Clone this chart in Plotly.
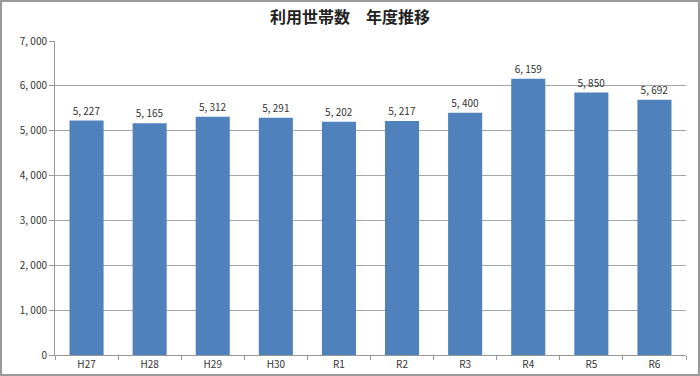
import plotly.graph_objects as go

categories = ["H27", "H28", "H29", "H30", "R1", "R2", "R3", "R4", "R5", "R6"]
values = [5227, 5165, 5312, 5291, 5202, 5217, 5400, 6159, 5850, 5692]
ytick_vals = [0, 1000, 2000, 3000, 4000, 5000, 6000, 7000]
ytick_text = ["0", "1, 000", "2, 000", "3, 000", "4, 000", "5, 000", "6, 000", "7, 000"]

labels = [f"{v:,}".replace(",", ", ") for v in values]

fig = go.Figure(go.Bar(
    x=categories, y=values,
    marker=dict(color="#4F81BD", line=dict(width=0)),
    text=labels, textposition="outside",
    textfont=dict(size=10, color="#333333", family="Noto Sans CJK JP"),
    cliponaxis=False,
))

fig.update_layout(
    width=700, height=376,
    margin=dict(l=55, r=14, t=41, b=21, autoexpand=False),
    paper_bgcolor="white", plot_bgcolor="white",
    bargap=0.46,
    showlegend=False,
    title=dict(text="<b>利用世帯数　年度推移</b>", x=0.5, xanchor="center", y=0.955, yanchor="middle",
               font=dict(size=16, color="#222222", family="Noto Sans CJK JP")),
    font=dict(family="Noto Sans CJK JP", size=10, color="#333333"),
    shapes=[dict(type="rect", xref="paper", yref="paper", x0=-54/631, x1=1+13/631, y0=-20/314, y1=1+40/314,
                 line=dict(color="#999999", width=2), layer="below")],
)
fig.update_xaxes(showline=True, linecolor="#999999", linewidth=1, ticks="outside", ticklen=4,
                 tickcolor="#999999", tickson="boundaries", tickfont=dict(size=10), showgrid=False,
                 automargin=False)
fig.update_yaxes(range=[0, 7000], tickvals=ytick_vals, ticktext=ytick_text, showline=True,
                 linecolor="#999999", linewidth=1, ticks="outside", ticklen=5, tickcolor="#999999",
                 showgrid=True, gridcolor="#A6A6A6", gridwidth=1, tickfont=dict(size=10), zeroline=False,
                 automargin=False)

fig.write_html("out.html")
